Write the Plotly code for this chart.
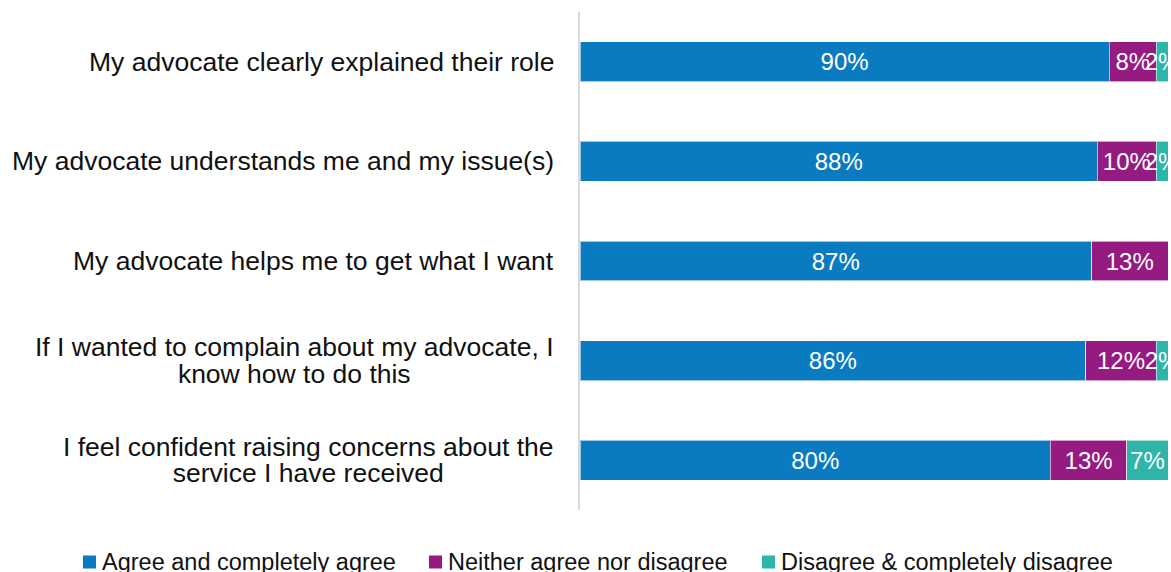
import plotly.graph_objects as go

# Survey statements (top to bottom) and response shares in percent
statements = [
    "My advocate clearly explained their role",
    "My advocate understands me and my issue(s)",
    "My advocate helps me to get what I want",
    "If I wanted to complain about my advocate, I<br>know how to do this",
    "I feel confident raising concerns about the<br>service I have received",
]
agree = [90, 88, 87, 86, 80]
neither = [8, 10, 13, 12, 13]
disagree = [2, 2, 0, 2, 7]

series_names = [
    "Agree and completely agree",
    "Neither agree nor disagree",
    "Disagree & completely disagree",
]
series_colors = ["#0A7BC1", "#951B81", "#2DB5AA"]

font_family = "Liberation Sans, Arial, sans-serif"
label_size = 26.5
line_gap = 27  # pixel distance between wrapped label lines

W, H = 1171, 572
M_L, M_R, M_T, M_B = 580, 3, 12, 62
plot_w = W - M_L - M_R
plot_h = H - M_T - M_B


def px_x(px):
    """Pixel column -> paper x coordinate."""
    return (px - M_L) / plot_w


def px_y(py):
    """Pixel row (from top) -> paper y coordinate."""
    return (H - M_B - py) / plot_h


fig = go.Figure()
for name, values, color in zip(series_names, [agree, neither, disagree], series_colors):
    fig.add_trace(go.Bar(
        y=statements,
        x=values,
        name=name,
        orientation="h",
        width=0.4,
        marker=dict(color=color, line=dict(color="rgba(255,255,255,0.6)", width=1)),
        text=[f"{v}%" if v > 0 else "" for v in values],
        textposition="inside",
        insidetextanchor="middle",
        textangle=0,
        constraintext="none",
        cliponaxis=True,
        textfont=dict(color="white", size=24, family=font_family),
        hoverinfo="skip",
        showlegend=False,
    ))

# Category labels left of the axis. Wrapped labels are centred line by line;
# each line is drawn in its own annotation (the other lines kept transparent so
# the block width, and hence the centring, stays the same) so that the line
# spacing can be tightened.
hidden = '<span style="color:rgba(0,0,0,0)">{}</span>'
natural_gap = 1.3 * label_size
for s in statements:
    lines = s.split("<br>")
    n = len(lines)
    if n == 1:
        fig.add_annotation(
            x=0, xref="paper", y=s, yref="y",
            text=s, showarrow=False,
            xanchor="right", yanchor="middle", align="center",
            xshift=-24,
            font=dict(size=label_size, color="#111111", family=font_family),
        )
        continue
    for i in range(n):
        parts = [ln if j == i else hidden.format(ln) for j, ln in enumerate(lines)]
        offset = i - (n - 1) / 2
        fig.add_annotation(
            x=0, xref="paper", y=s, yref="y",
            text="<br>".join(parts), showarrow=False,
            xanchor="right", yanchor="middle", align="center",
            xshift=-24,
            yshift=offset * (natural_gap - line_gap),
            font=dict(size=label_size, color="#111111", family=font_family),
        )

# Legend row below the plot: coloured square followed by the series name
legend_starts = [83, 429, 762]
legend_y = 562
sq = 13
for name, color, x0 in zip(series_names, series_colors, legend_starts):
    fig.add_shape(
        type="rect", xref="paper", yref="paper",
        x0=px_x(x0), x1=px_x(x0 + sq),
        y0=px_y(legend_y + sq / 2), y1=px_y(legend_y - sq / 2),
        fillcolor=color, line=dict(width=0),
    )
    fig.add_annotation(
        x=px_x(x0 + sq + 4), y=px_y(legend_y), xref="paper", yref="paper",
        text=name, showarrow=False,
        xanchor="left", yanchor="middle",
        font=dict(size=23.5, color="#111111", family=font_family),
    )

fig.update_layout(
    width=W, height=H,
    barmode="stack",
    margin=dict(l=M_L, r=M_R, t=M_T, b=M_B),
    plot_bgcolor="white",
    paper_bgcolor="white",
    font=dict(family=font_family, size=21, color="#111111"),
    xaxis=dict(range=[0, 100], visible=False, fixedrange=True),
    yaxis=dict(
        categoryorder="array", categoryarray=statements,
        autorange="reversed",
        showticklabels=False, ticks="",
        showgrid=False, zeroline=False,
        showline=True, linecolor="#D9D9D9", linewidth=2,
    ),
    showlegend=False,
)

fig.write_html("out.html")
